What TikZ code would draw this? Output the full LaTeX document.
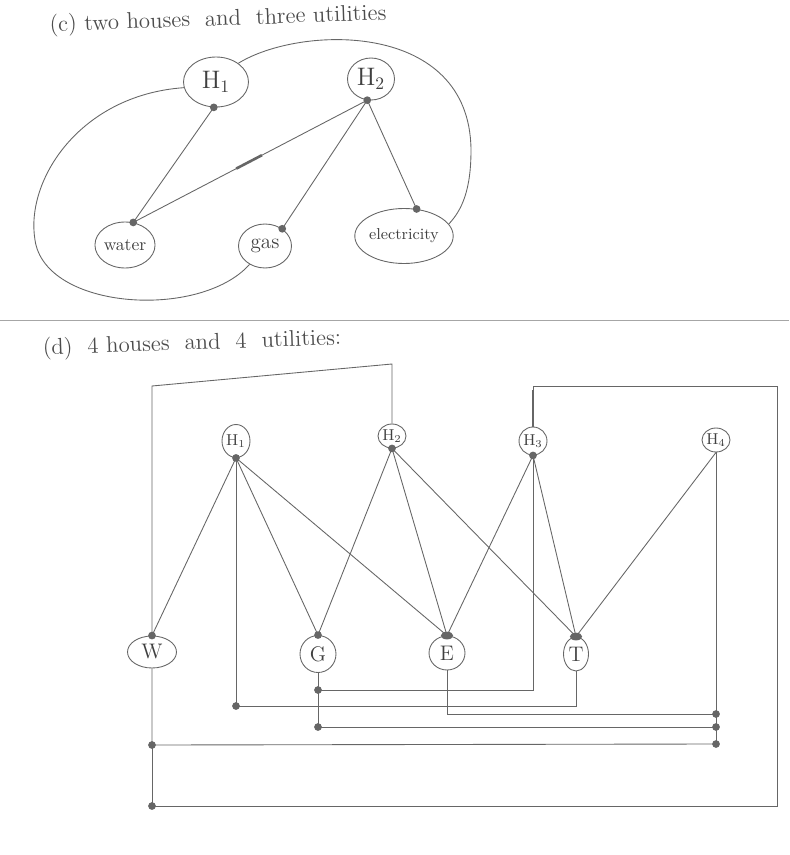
\documentclass[tikz,border=0pt]{standalone}
\usetikzlibrary{shapes.geometric}
\begin{document}
\begin{tikzpicture}[x=0.02cm,y=-0.02cm,
  pencil/.style={draw=black!60,line width=0.5pt},
  vtx/.style={pencil,ellipse,inner sep=0pt,text=black!75},
  hand/.style={text=black!70,font=\fontsize{13}{15}\selectfont,rotate=2}]
\useasboundingbox (0,0) rectangle (789,855);
% (c) two houses and three utilities
\node[hand] (titlec) at (218,20) {(c) two houses \ and \ three utilities};
\node[vtx,minimum width=1.3cm,minimum height=1cm,font=\Large] (h1) at (216,82) {$\mathrm{H}_1$};
\node[vtx,minimum width=0.94cm,minimum height=0.84cm,font=\Large] (h2) at (371,79) {$\mathrm{H}_2$};
\node[vtx,minimum width=1.2cm,minimum height=0.92cm] (water) at (125,245) {water};
\node[vtx,minimum width=1.06cm,minimum height=0.88cm,font=\large] (gas) at (265,246) {gas};
\node[vtx,minimum width=1.7cm,minimum height=1.1cm,font=\small] (elec) at (404,236) {electricity};
\draw[pencil] (h1.265) -- (water.70);
\draw[pencil] (h2.260) -- (water.70)
  coordinate[pos=0.45] (k1) coordinate[pos=0.56] (k2);
\draw[pencil,line width=1.5pt] (k1) -- (k2);
\draw[pencil] (h2.260) -- (gas.45);
\draw[pencil] (h2.260) -- (elec.65);
\draw[pencil] (h1.190) .. controls (80,95) and (25,180) .. (35,240)
  .. controls (45,310) and (200,320) .. (gas.230);
\draw[pencil] (h1.40) .. controls (300,25) and (470,20) .. (471,150)
  .. controls (471,190) and (462,210) .. (elec.15);
\foreach \p in {h1.265,h2.260,water.70,gas.45,elec.65}
  \fill[black!60] (\p) circle (2.2pt);
\draw[black!35] (0,320) -- (789,320);
% (d) 4 houses and 4 utilities
\node[hand] (titled) at (192,344) {(d) \ 4 houses \ and \ 4 \ utilities:};
\node[vtx,minimum width=0.56cm,minimum height=0.66cm,font=\small] (hb1) at (236,441) {$\mathrm{H}_1$};
\node[vtx,minimum width=0.56cm,minimum height=0.48cm,font=\small] (hb2) at (392,436) {$\mathrm{H}_2$};
\node[vtx,minimum width=0.56cm,minimum height=0.56cm,font=\small] (hb3) at (533,441) {$\mathrm{H}_3$};
\node[vtx,minimum width=0.56cm,minimum height=0.48cm,font=\small] (hb4) at (716,440) {$\mathrm{H}_4$};
\node[vtx,minimum width=0.98cm,minimum height=0.64cm,font=\large] (uw) at (152,652) {W};
\node[vtx,minimum width=0.72cm,minimum height=0.74cm,font=\large] (ug) at (318,654) {G};
\node[vtx,minimum width=0.72cm,minimum height=0.68cm,font=\large] (ue) at (447,653) {E};
\node[vtx,minimum width=0.5cm,minimum height=0.68cm,font=\large] (ut) at (576,654) {T};
\foreach \a/\b in {hb1/uw,hb1/ug,hb1/ue,hb2/ug,hb2/ue,hb2/ut,hb3/ue,hb3/ut,hb4/ut}
  \draw[pencil] (\a.south) -- (\b.north);
\coordinate (jt) at (hb1.south |- 0,706);
\coordinate (jg1) at (ug.south |- 0,690);
\coordinate (jg2) at (ug.south |- 0,727);
\coordinate (je) at (hb4.south |- 0,714);
\coordinate (j4g) at (hb4.south |- jg2);
\coordinate (j4w) at (hb4.south |- 0,744);
\coordinate (jw1) at (uw.south |- 0,745);
\coordinate (jw2) at (uw.south |- 0,806);
\draw[pencil] (hb1.south) -- (jt) -| (ut.south);
\draw[pencil] (ug.south) -- (jg1) -| (hb3.south);
\draw[pencil] (jg1) -- (jg2) -- (j4g);
\draw[pencil] (ue.south) |- (je);
\draw[pencil] (hb4.south) -- (j4w);
\draw[pencil] (uw.south) -- (jw1) -- (j4w);
\draw[pencil] (jw1) -- (jw2) -| (777,386) -| (hb3.north);
\draw[pencil,line width=1.6pt] (hb3.north) -- (hb3.north |- 0,390);
\draw[pencil] (uw.north) -- (uw.north |- 0,386) -- (hb2.north |- 0,364) -- (hb2.north);
\foreach \p in {hb1.south,hb2.south,hb3.south,uw.north,ug.north,jt,jg1,jg2,jw1,jw2,je,j4g,j4w}
  \fill[black!60] (\p) circle (2.2pt);
\foreach \p in {ue.north,ut.north}
  \fill[black!60] (\p) ellipse (3.5pt and 2.2pt);
\end{tikzpicture}
\end{document}
